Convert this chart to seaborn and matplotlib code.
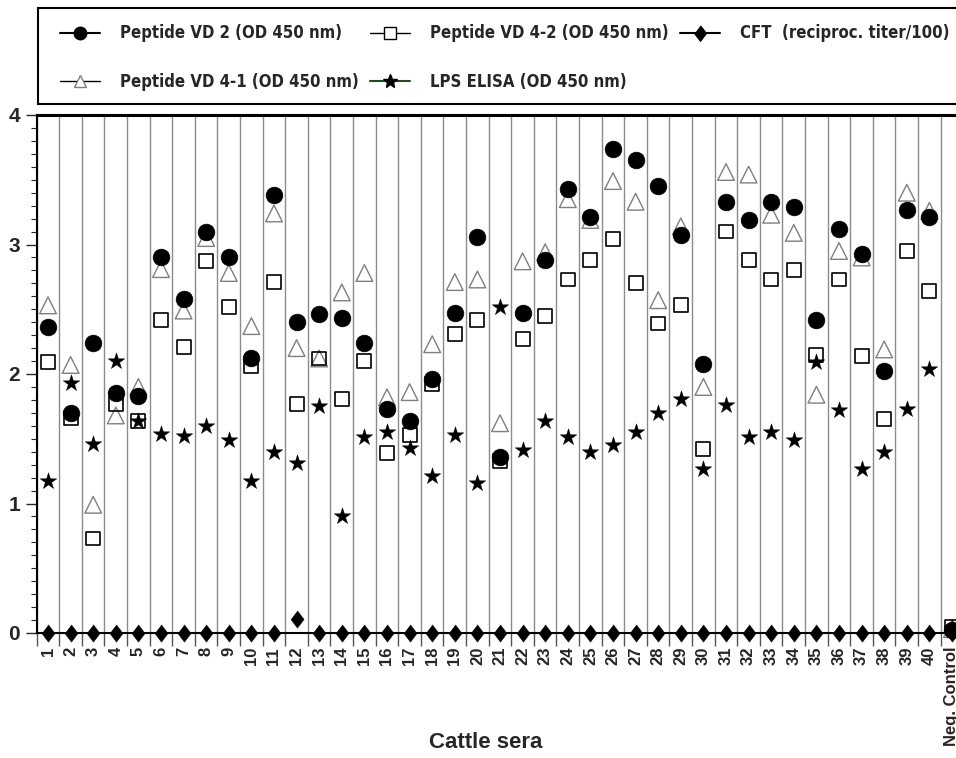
import numpy as np
import pandas as pd
import matplotlib
matplotlib.use("Agg")
import matplotlib.pyplot as plt
from matplotlib.lines import Line2D
from matplotlib.patches import Rectangle
from matplotlib.ticker import MultipleLocator, FixedLocator, NullFormatter
import seaborn as sns

categories = [str(i) for i in range(1, 41)] + ["Neg. Control"]
vd2 = [2.36, 1.70, 2.24, 1.85, 1.83, 2.90, 2.58, 3.10, 2.90, 2.12, 3.38, 2.40, 2.46, 2.43, 2.24, 1.73, 1.64, 1.96, 2.47, 3.06,
       1.36, 2.47, 2.88, 3.43, 3.21, 3.74, 3.65, 3.45, 3.07, 2.08, 3.33, 3.19, 3.33, 3.29, 2.42, 3.12, 2.93, 2.02, 3.27, 3.21, 0.02]
vd41 = [2.53, 2.07, 0.99, 1.68, 1.90, 2.81, 2.49, 3.05, 2.78, 2.37, 3.24, 2.20, 2.12, 2.63, 2.78, 1.82, 1.86, 2.23, 2.71, 2.73,
        1.62, 2.87, 2.94, 3.35, 3.19, 3.49, 3.33, 2.57, 3.14, 1.90, 3.56, 3.54, 3.23, 3.09, 1.84, 2.95, 2.90, 2.19, 3.40, 3.26, 0.03]
vd42 = [2.09, 1.66, 0.73, 1.77, 1.64, 2.42, 2.21, 2.87, 2.52, 2.06, 2.71, 1.77, 2.12, 1.81, 2.10, 1.39, 1.53, 1.92, 2.31, 2.42,
        1.33, 2.27, 2.45, 2.73, 2.88, 3.04, 2.70, 2.39, 2.53, 1.42, 3.10, 2.88, 2.73, 2.80, 2.15, 2.73, 2.14, 1.65, 2.95, 2.64, 0.05]
lps = [1.17, 1.93, 1.46, 2.10, 1.64, 1.54, 1.52, 1.60, 1.49, 1.17, 1.40, 1.31, 1.75, 0.90, 1.51, 1.55, 1.43, 1.21, 1.53, 1.16,
       2.52, 1.41, 1.64, 1.51, 1.40, 1.45, 1.55, 1.70, 1.81, 1.27, 1.76, 1.51, 1.55, 1.49, 2.09, 1.72, 1.27, 1.40, 1.73, 2.04, 0.04]
cft = [0, 0, 0, 0, 0, 0, 0, 0, 0, 0, 0, 0.11, 0, 0, 0, 0, 0, 0, 0, 0,
       0, 0, 0, 0, 0, 0, 0, 0, 0, 0, 0, 0, 0, 0, 0, 0, 0, 0, 0, 0, 0]
labels = ["Peptide VD 2 (OD 450 nm)", "Peptide VD 4-1 (OD 450 nm)", "Peptide VD 4-2 (OD 450 nm)",
          "LPS ELISA (OD 450 nm)", "CFT  (reciproc. titer/100)"]

sns.set_style("white")
plt.rcParams["font.family"] = ["Liberation Sans", "DejaVu Sans"]

W, H = 956, 758
fig = plt.figure(figsize=(W / 100, H / 100), dpi=100)
x0_px, x1_px = 36.7, 963.3
y0_px, y1_px = 633, 115
ax = fig.add_axes([x0_px / W, 1 - y0_px / H, (x1_px - x0_px) / W, (y0_px - y1_px) / H])

pos = np.arange(len(categories))
diamond = [(0, 1), (0.76, 0), (0, -1), (-0.76, 0)]

sns.scatterplot(x=pos, y=vd41, marker="^", s=12 ** 2, facecolor="none", edgecolor="#7f7f7f",
                linewidth=1.0, ax=ax, zorder=3, clip_on=False)
sns.scatterplot(x=pos, y=vd42, marker="s", s=10 ** 2, facecolor="none", edgecolor="black",
                linewidth=1.2, ax=ax, zorder=4, clip_on=False)
sns.scatterplot(x=pos, y=vd2, marker="o", s=12 ** 2, color="black", edgecolor="black",
                linewidth=0.5, ax=ax, zorder=5, clip_on=False)
sns.scatterplot(x=pos, y=lps, marker="*", s=12.5 ** 2, color="black", edgecolor="black",
                linewidth=0.3, ax=ax, zorder=6, clip_on=False)
sns.scatterplot(x=pos, y=cft, marker=diamond, s=12.5 ** 2, color="black", edgecolor="black",
                linewidth=0.3, ax=ax, zorder=7, clip_on=False)

ax.set_xlim(-0.5, len(categories) - 0.5)
ax.set_ylim(0, 4)

ax.xaxis.set_major_locator(FixedLocator(np.arange(-0.5, len(categories), 1.0)))
ax.xaxis.set_major_formatter(NullFormatter())
ax.set_xticks(pos, minor=True)
ax.set_xticklabels(categories, minor=True, rotation=90, fontsize=12, fontweight="bold")
ax.tick_params(axis="x", which="major", direction="out", length=9, width=1, color="#555555", bottom=True)
ax.tick_params(axis="x", which="minor", length=0, pad=10)
ax.grid(axis="x", which="major", color="#8c8c8c", linewidth=1.0)
ax.set_axisbelow(True)

ax.yaxis.set_major_locator(MultipleLocator(1))
ax.yaxis.set_minor_locator(MultipleLocator(0.1))
ax.tick_params(axis="y", which="major", direction="out", length=8, width=1, left=True, pad=4, labelsize=15)
ax.tick_params(axis="y", which="minor", direction="out", length=4, width=0.8, left=True)
for t in ax.get_yticklabels():
    t.set_fontweight("bold")

for s in ["left", "bottom"]:
    ax.spines[s].set_color("black")
    ax.spines[s].set_linewidth(1.5)
ax.spines["top"].set_color("black")
ax.spines["top"].set_linewidth(2.2)
ax.spines["right"].set_visible(False)
ax.spines["bottom"].set_zorder(2.5)

ax.set_xlabel("Cattle sera", fontsize=16, fontweight="bold")
ax.xaxis.set_label_coords((486 - x0_px) / (x1_px - x0_px), (633 - 742) / (633 - 115))
ax.xaxis.label.set_va("center")
ax.set_ylabel("")

handles = [
    Line2D([], [], color="black", lw=1.5, marker="o", ms=9, mfc="black", mec="black"),
    Line2D([], [], color="black", lw=1.0, marker="^", ms=9, mfc="white", mec="#7f7f7f"),
    Line2D([], [], color="black", lw=1.0, marker="s", ms=8, mfc="white", mec="black"),
    Line2D([], [], color="#1f4d1f", lw=1.5, marker="*", ms=10, mfc="black", mec="black"),
    Line2D([], [], color="black", lw=1.5, marker=diamond, ms=11, mfc="black", mec="black"),
]

# legend frame
fig.patches.append(Rectangle((38 / W, 1 - 104 / H), (975 - 38) / W, 96 / H, transform=fig.transFigure,
                             facecolor="white", edgecolor="black", linewidth=1.5, zorder=0))
prop = {"family": ["DejaVu Sans"], "stretch": "condensed", "weight": "bold", "size": 12}
columns = [([0, 1], 60), ([2, 3], 370), ([4], 680)]
for idx, xpx in columns:
    lg = fig.legend([handles[i] for i in idx], [labels[i] for i in idx], loc="upper left",
                    bbox_to_anchor=(xpx / W, 1 - 24.5 / H), frameon=False, prop=prop,
                    handlelength=2.4, handletextpad=1.2, labelspacing=1.84,
                    borderpad=0, borderaxespad=0)

fig.savefig("out.png", dpi=100)
